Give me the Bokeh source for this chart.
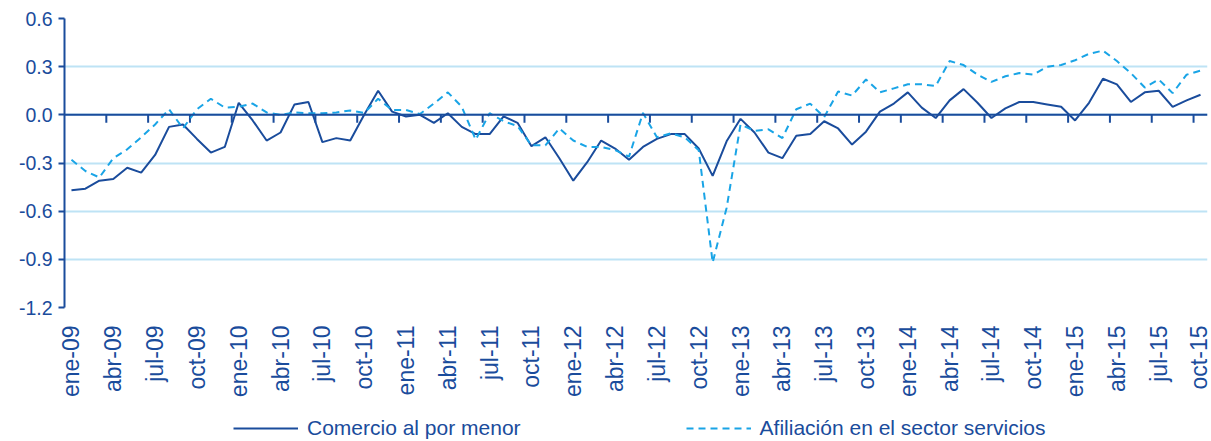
from bokeh.plotting import figure
from bokeh.models import (ColumnDataSource, FixedTicker, Span, Legend, LegendItem,
                          NumeralTickFormatter)
from bokeh.layouts import column
from bokeh.embed import file_html
from bokeh.resources import INLINE
import math

# ---- data -------------------------------------------------------------
meses = ["ene", "feb", "mar", "abr", "may", "jun", "jul", "ago", "sep", "oct", "nov", "dic"]
anios = ["09", "10", "11", "12", "13", "14", "15"]
categorias = [f"{m}-{a}" for a in anios for m in meses][:82]   # ene-09 .. oct-15

comercio = [
    -0.47, -0.46, -0.41, -0.40, -0.33, -0.36, -0.25, -0.075, -0.06, -0.15,
    -0.235, -0.20, 0.075, -0.035, -0.16, -0.11, 0.065, 0.08, -0.17, -0.145,
    -0.16, 0.0, 0.15, 0.02, -0.01, 0.0, -0.05, 0.01, -0.075, -0.12,
    -0.12, -0.01, -0.05, -0.195, -0.14, -0.27, -0.41, -0.295, -0.16, -0.21,
    -0.28, -0.20, -0.15, -0.12, -0.12, -0.21, -0.38, -0.165, -0.025, -0.11,
    -0.235, -0.27, -0.13, -0.12, -0.04, -0.085, -0.185, -0.105, 0.02, 0.07,
    0.14, 0.045, -0.02, 0.09, 0.16, 0.075, -0.02, 0.04, 0.08, 0.08,
    0.065, 0.05, -0.035, 0.075, 0.225, 0.19, 0.08, 0.14, 0.15, 0.05,
    0.09, 0.125,
]

afiliacion = [
    -0.28, -0.35, -0.39, -0.27, -0.215, -0.14, -0.06, 0.035, -0.085, 0.035,
    0.10, 0.045, 0.05, 0.07, 0.015, 0.0, 0.015, 0.01, 0.01, 0.015,
    0.027, 0.012, 0.10, 0.03, 0.03, 0.005, 0.07, 0.14, 0.05, -0.155,
    0.01, -0.04, -0.07, -0.19, -0.19, -0.085, -0.16, -0.20, -0.20, -0.22,
    -0.26, 0.012, -0.14, -0.115, -0.14, -0.22, -0.92, -0.58, -0.06, -0.10,
    -0.09, -0.145, 0.035, 0.07, -0.015, 0.145, 0.12, 0.22, 0.14, 0.165,
    0.19, 0.19, 0.18, 0.335, 0.31, 0.25, 0.205, 0.24, 0.26, 0.25,
    0.30, 0.31, 0.34, 0.38, 0.40, 0.335, 0.26, 0.17, 0.22, 0.135,
    0.25, 0.275,
]

series_names = ["Comercio al por menor", "Afiliación en el sector servicios"]
y_ticks = [-1.2, -0.9, -0.6, -0.3, 0.0, 0.3, 0.6]
label_step = 3

# ---- styling -----------------------------------------------------------
DARK = "#1A4C9C"
LIGHT = "#19A4E6"
GRID = "#BEE3F5"
FONT = "Liberation Sans"

idx = list(range(len(categorias)))
source = ColumnDataSource(dict(x=idx, comercio=comercio, afiliacion=afiliacion))

p = figure(frame_width=1143, frame_height=289, output_backend="svg", toolbar_location=None,
           x_range=(-0.5, len(categorias) - 0.5), y_range=(y_ticks[0], y_ticks[-1]),
           min_border_left=64, min_border_right=4, min_border_top=18, min_border_bottom=88)
p.outline_line_color = None
p.background_fill_color = "white"

# y axis
p.yaxis.ticker = FixedTicker(ticks=y_ticks)
p.yaxis.formatter = NumeralTickFormatter(format="0.0")
p.yaxis.axis_line_color = DARK
p.yaxis.axis_line_width = 2
p.yaxis.major_tick_line_color = DARK
p.yaxis.major_tick_line_width = 2
p.yaxis.major_tick_out = 6
p.yaxis.major_tick_in = 0
p.yaxis.minor_tick_line_color = None
p.yaxis.major_label_text_font = FONT
p.yaxis.major_label_text_font_size = "19.5px"
p.yaxis.major_label_text_color = DARK
p.yaxis.major_label_standoff = 6

# x axis (labels only)
label_pos = idx[::label_step]
p.xaxis.ticker = FixedTicker(ticks=label_pos)
p.xaxis.major_label_overrides = {i: categorias[i] for i in label_pos}
p.xaxis.major_label_orientation = math.pi / 2
p.xaxis.axis_line_color = None
p.xaxis.major_tick_line_color = None
p.xaxis.minor_tick_line_color = None
p.xaxis.major_label_text_font = FONT
p.xaxis.major_label_text_font_size = "23px"
p.xaxis.major_label_text_color = DARK
p.xaxis.major_label_standoff = 12

# grid
p.xgrid.grid_line_color = None
p.ygrid.ticker = FixedTicker(ticks=y_ticks)
p.ygrid.grid_line_color = GRID
p.ygrid.grid_line_width = 2

# zero axis line with tick marks between category groups
p.add_layout(Span(location=0, dimension="width", line_color=DARK, line_width=2))
tick_x = [i + 2.5 for i in idx[::label_step]][:-1]
p.segment(x0=tick_x, x1=tick_x, y0=[0] * len(tick_x), y1=[-0.05] * len(tick_x),
          line_color=DARK, line_width=2)

# series
p.line("x", "comercio", source=source, line_color=DARK, line_width=2)
p.line("x", "afiliacion", source=source, line_color=LIGHT, line_width=2, line_dash="7 5")

# ---- legend strip (separate figure under the chart) --------------------
# same series, but the strip's y range lies far outside the data, so only the
# legend swatches are visible
leg = figure(frame_width=1143, frame_height=46, output_backend="svg", toolbar_location=None,
             x_range=(-0.5, len(categorias) - 0.5), y_range=(50, 51),
             min_border_left=64, min_border_right=4, min_border_top=0, min_border_bottom=0)
leg.axis.visible = False
leg.grid.visible = False
leg.outline_line_color = None
g1 = leg.line("x", "comercio", source=source, line_color=DARK, line_width=2)
g2 = leg.line("x", "afiliacion", source=source, line_color=LIGHT, line_width=2,
              line_dash="7 5")

legend = Legend(items=[LegendItem(label=series_names[0], renderers=[g1]),
                       LegendItem(label=series_names[1], renderers=[g2])],
                orientation="horizontal", location=(169, 6),
                glyph_width=65, glyph_height=20, label_standoff=9, spacing=165,
                label_text_font=FONT, label_text_font_size="21px",
                label_text_color=DARK, border_line_color=None,
                background_fill_alpha=0, padding=0, margin=0)
leg.add_layout(legend, "center")

layout = column(p, leg, spacing=0)
open("out.html", "w").write(file_html(layout, INLINE))
